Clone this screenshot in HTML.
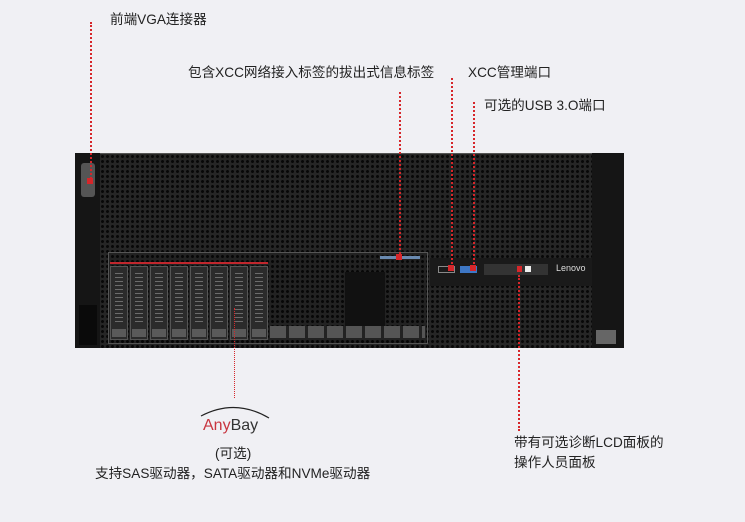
<!DOCTYPE html>
<html><head><meta charset="utf-8"><style>
*{margin:0;padding:0;box-sizing:border-box}
body{width:745px;height:522px;background:#f0f0f4;position:relative;overflow:hidden;font-family:"Liberation Sans","Noto Sans CJK SC",sans-serif;color:#222;font-size:13.6px}
.a{position:absolute}
.perf{background-color:#262626;background-image:radial-gradient(circle,#080808 1.3px,transparent 1.7px);background-size:5px 5px}
.vl{position:absolute;width:0;border-left:2px dotted #d6262a}
.t{position:absolute;white-space:nowrap}
.bay{position:absolute;top:266px;width:18px;height:74px;background:#2b2b2b;border:1px solid #555}
.bay i{position:absolute;left:4px;top:6px;width:8px;height:50px;background-image:repeating-linear-gradient(#888 0 1px,transparent 1px 4px);opacity:.7}
.bay b{position:absolute;left:1px;bottom:2px;width:14px;height:8px;background:#5a5a5a}
</style></head><body>
<div class="a" style="left:75px;top:153px;width:25px;height:195px;background:#151515"></div>
<div class="a" style="left:81px;top:163px;width:14px;height:34px;background:#555;border-radius:3px"></div>
<div class="a" style="left:79px;top:305px;width:18px;height:40px;background:#0a0a0a"></div>
<div class="a perf" style="left:100px;top:153px;width:492px;height:195px;border-top:1px solid #555"></div>
<div class="a" style="left:592px;top:153px;width:32px;height:195px;background:#151515"></div>
<div class="a" style="left:596px;top:330px;width:20px;height:14px;background:#666"></div>
<div class="a" style="left:108px;top:252px;width:320px;height:92px;border:1px solid #555;background:rgba(0,0,0,.1)"></div>
<div class="a" style="left:110px;top:262px;width:158px;height:2px;background:#c0272d"></div>
<div class="a" style="left:380px;top:256px;width:40px;height:3px;background:#6a8ab0"></div>
<div class="bay" style="left:110px"><i></i><b></b></div>
<div class="bay" style="left:130px"><i></i><b></b></div>
<div class="bay" style="left:150px"><i></i><b></b></div>
<div class="bay" style="left:170px"><i></i><b></b></div>
<div class="bay" style="left:190px"><i></i><b></b></div>
<div class="bay" style="left:210px"><i></i><b></b></div>
<div class="bay" style="left:230px"><i></i><b></b></div>
<div class="bay" style="left:250px"><i></i><b></b></div>
<div class="a" style="left:270px;top:326px;width:155px;height:12px;background:repeating-linear-gradient(90deg,#555 0 16px,#222 16px 19px)"></div>
<div class="a" style="left:345px;top:272px;width:40px;height:54px;background:#111"></div>
<div class="a" style="left:430px;top:258px;width:162px;height:28px;background:#1a1a1a"></div>
<div class="a" style="left:438px;top:266px;width:17px;height:7px;border:1px solid #888"></div>
<div class="a" style="left:460px;top:266px;width:17px;height:7px;background:#3e77c5"></div>
<div class="a" style="left:484px;top:264px;width:64px;height:11px;background:#333"></div>
<div class="a" style="left:517px;top:266px;width:5px;height:6px;background:#d6262a"></div>
<div class="a" style="left:525px;top:266px;width:6px;height:6px;background:#eee"></div>
<div class="t" style="left:556px;top:263px;color:#ddd;font-size:9px">Lenovo</div>
<div class="vl" style="left:90px;top:22px;height:160px"></div>
<div class="a" style="left:87px;top:178px;width:6px;height:6px;background:#d6262a"></div>
<div class="vl" style="left:399px;top:92px;height:166px"></div>
<div class="a" style="left:396px;top:254px;width:6px;height:6px;background:#d6262a"></div>
<div class="vl" style="left:451px;top:78px;height:190px"></div>
<div class="a" style="left:448px;top:265px;width:6px;height:6px;background:#d6262a"></div>
<div class="vl" style="left:473px;top:102px;height:166px"></div>
<div class="a" style="left:470px;top:265px;width:6px;height:6px;background:#d6262a"></div>
<div class="vl" style="left:518px;top:275px;height:156px"></div>
<div class="vl" style="left:234px;top:308px;height:90px;border-left:1px dotted #d6262a"></div>
<div class="t" style="left:110px;top:8px">前端VGA连接器</div>
<div class="t" style="left:188px;top:61px">包含XCC网络接入标签的拔出式信息标签</div>
<div class="t" style="left:468px;top:61px">XCC管理端口</div>
<div class="t" style="left:484px;top:94px">可选的USB 3.O端口</div>
<div class="t" style="left:514px;top:431px">带有可选诊断LCD面板的</div>
<div class="t" style="left:514px;top:451px">操作人员面板</div>
<svg class="a" style="left:195px;top:402px" width="80" height="36"><path d="M6 14 Q40 -4 74 16" fill="none" stroke="#222" stroke-width="1.2"/><text x="8" y="28" font-family="Liberation Sans" font-size="16" fill="#c8353f">Any<tspan fill="#333">Bay</tspan></text></svg>
<div class="t" style="left:215px;top:442px">(可选)</div>
<div class="t" style="left:95px;top:462px">支持SAS驱动器，SATA驱动器和NVMe驱动器</div>
</body></html>
